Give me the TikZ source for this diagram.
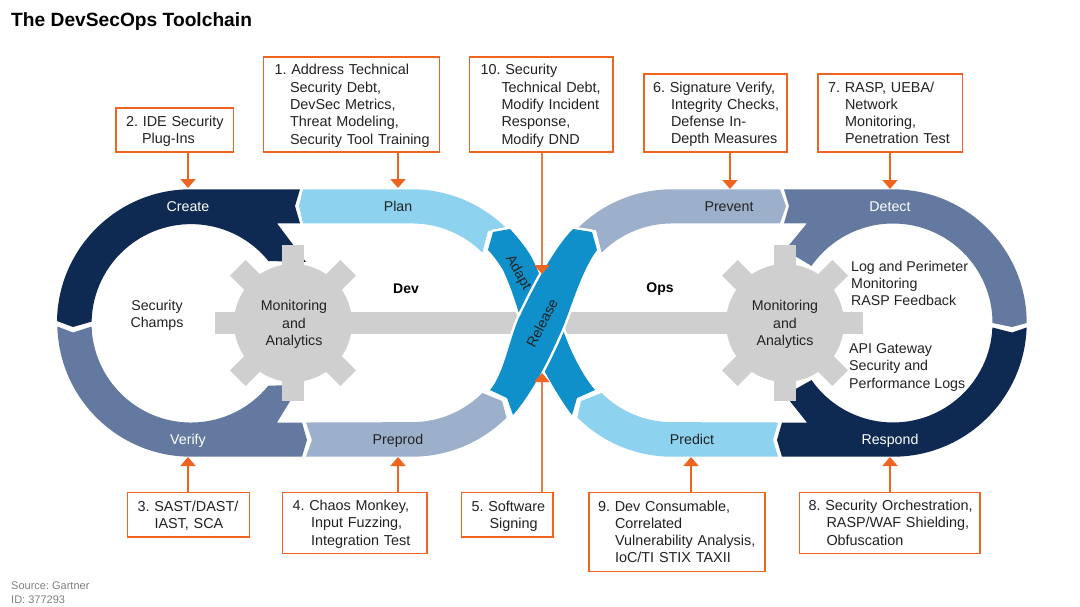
\documentclass[tikz,border=0pt]{standalone}
\usepackage{fontspec}
\setmainfont{Liberation Sans}
\usetikzlibrary{arrows.meta}
\frenchspacing
\definecolor{navy}{HTML}{0F2A52}
\definecolor{slateb}{HTML}{64799F}
\definecolor{paleb}{HTML}{9CAFCB}
\definecolor{skyb}{HTML}{8DD3F0}
\definecolor{ribb}{HTML}{0F90CB}
\definecolor{gearg}{HTML}{CFCFCF}
\definecolor{orng}{HTML}{EE6420}
\definecolor{orngl}{HTML}{E27E48}
\definecolor{txt}{HTML}{222222}
\tikzset{
  boxn/.style={draw=orng,line width=1.8pt,fill=white,inner xsep=8pt,inner ysep=0pt,text=txt,font=\fontsize{14.4}{17.3}\selectfont},
  lab/.style={font=\fontsize{14.2}{17.3}\selectfont,text=txt,inner sep=0pt},
  blab/.style={lab,text height=10pt,text depth=3pt},
  wlab/.style={blab,text=white},
  midt/.style={lab,align=center},
  leftt/.style={lab,align=left,anchor=west},
  conn/.style={draw=orng,line width=1.8pt,-{Triangle[length=9pt,width=15pt,color=orng]}},
  connl/.style={draw=orngl,line width=1.8pt,-{Triangle[length=9pt,width=15pt,color=orng]}},
  ribbon/.style={fill=ribb,preaction={draw=white,line width=5pt,line join=round}},
}
\newcommand\bx[6]{%
  \pgfmathsetmacro\cx{(#2+#4)/2}\pgfmathsetmacro\cy{(#3+#5)/2}%
  \pgfmathsetmacro\bw{#4-#2}\pgfmathsetmacro\bh{#5-#3}\pgfmathsetmacro\tw{#4-#2-16}%
  \node[boxn,minimum width=\bw pt,minimum height=\bh pt,text width=\tw pt] (#1) at (\cx,\cy) {\noindent\raisebox{-1.5pt}[\height][\depth]{\begin{tabular}{@{}l@{}}#6\end{tabular}}};}
\newcommand\hg[1]{\hspace*{#1pt}}
\newcommand\gearat[3]{%
  \fill[gearg] (#1,#2) circle[radius=59pt];
  \foreach \a in {0,45,...,315}{
    \fill[gearg,shift={(#1,#2)},rotate=\a] (0,-11) rectangle (#3,11);
  }}
\begin{document}
\begin{tikzpicture}[x=1pt,y=-1pt]
\useasboundingbox (0,0) rectangle (1080,606);
\fill[white] (0,0) rectangle (1080,606);
% left ring
\fill[navy] (57,321) arc[start angle=179.15,end angle=90,radius=133.7pt] -- (300,189.3) -- (295,206) -- (300,223.3) -- (277,223.3) -- (306,262) -- (268.4,261) arc[start angle=39,end angle=178.85,radius=99.5pt] -- (73,327) -- cycle;
\fill[slateb] (57.4,326.5) -- (73,332.5) -- (91.6,326.5) arc[start angle=182,end angle=321,radius=99.5pt] -- (300,385) -- (277,422.5) -- (302,422.5) -- (307,440) -- (302,456.7) -- (191,456.7) arc[start angle=270,end angle=181.5,radius=133.7pt] -- cycle;
% right ring
\fill[slateb] (784,189.3) -- (893,189.3) arc[start angle=90,end angle=0,radius=133.7pt] -- (1012,327) -- (992.5,323) arc[start angle=0,end angle=145,radius=99.5pt] -- (785,250) -- (807,223.3) -- (784,223.3) -- (789,206) -- cycle;
\fill[navy] (1026.6,327.5) -- (1012,332.5) -- (992.4,327.5) arc[start angle=-2.6,end angle=-145,radius=99.5pt] -- (785,395) -- (807,422.5) -- (782,422.5) -- (777,440) -- (782,456.7) -- (893,456.7) arc[start angle=270,end angle=358.1,radius=133.7pt] -- cycle;
% connecting bands
\fill[skyb] (303,189.3) -- (412,189.3) arc[start angle=90,end angle=45,radius=133.7pt] -- (488,231) -- (482.4,252.6) arc[start angle=45,end angle=90,radius=99.5pt] -- (303,223.3) -- (299,206) -- cycle;
\fill[paleb] (306,456.7) -- (412,456.7) arc[start angle=270,end angle=315,radius=133.7pt] -- (502,401) -- (482.4,393) arc[start angle=-45,end angle=-90,radius=99.5pt] -- (306,422.5) -- (312,440) -- cycle;
\fill[paleb] (780,189.3) -- (672,189.3) arc[start angle=90,end angle=135,radius=133.7pt] -- (596,230) -- (601.6,252.6) arc[start angle=135,end angle=90,radius=99.5pt] -- (780,223.3) -- (786,206) -- cycle;
\fill[skyb] (778,456.7) -- (672,456.7) arc[start angle=270,end angle=225,radius=133.7pt] -- (581,401) -- (601.6,393) arc[start angle=225,end angle=270,radius=99.5pt] -- (778,422.5) -- (773,440) -- cycle;
% bars
\fill[gearg] (293,312) rectangle (530,334);
\fill[gearg] (550,312) rectangle (785,334);
% adapt and release ribbons
\path[ribbon] (488,250) -- (493,232) -- (510,229) .. controls (520,240) and (528,250) .. (533,260) .. controls (545,285) and (553,310) .. (563,330) .. controls (570,350) and (582,375) .. (595,390) -- (577,398) -- (572,415) .. controls (562,402) and (552,385) .. (545,372) .. controls (535,352) and (528,335) .. (520,317) .. controls (515,300) and (510,285) .. (503,270) .. controls (498,262) and (493,255) .. (488,250) -- cycle;
\path[ribbon] (573,229) -- (592,232) -- (597,250) .. controls (582,270) and (572,305) .. (563,327) .. controls (553,350) and (535,390) .. (513,415) -- (507,398) -- (490,390) .. controls (503,375) and (508,345) .. (518,320) .. controls (530,295) and (552,250) .. (573,229) -- cycle;
% gears
\gearat{293}{323}{78}
\gearat{785}{323}{78}
% connector ends
\coordinate (t2) at (188,188);
\coordinate (t1) at (398,188);
\coordinate (t10) at (542,274);
\coordinate (t6) at (730,189);
\coordinate (t7) at (890,189);
\coordinate (t3) at (188,457);
\coordinate (t4) at (398,457);
\coordinate (t5) at (542,373);
\coordinate (t9) at (691,457);
\coordinate (t8) at (890,457);
% boxes
\bx{b2}{116}{108}{233.5}{152}{\hg{2}2. IDE Security\\\hg{18}Plug-Ins}
\bx{b1}{263.5}{57}{439.5}{152}{\hg{3}1. Address Technical\\\hg{18.5}Security Debt,\\\hg{18.5}DevSec Metrics,\\\hg{18.5}Threat Modeling,\\\hg{18.5}Security Tool Training}
\bx{b10}{469.5}{57}{613}{152}{\hg{3}10. Security\\\hg{24}Technical Debt,\\\hg{24}Modify Incident\\\hg{24}Response,\\\hg{24}Modify DND}
\bx{b6}{644}{74}{787}{152}{\hg{1}6. Signature Verify,\\\hg{19}Integrity Checks,\\\hg{19}Defense In-\\\hg{19}Depth Measures}
\bx{b7}{818}{74}{962.5}{152}{\hg{2}7. RASP, UEBA/\\\hg{19}Network\\\hg{19}Monitoring,\\\hg{19}Penetration Test}
\bx{b3}{127.5}{492.5}{249.5}{537}{\hg{2}3. SAST/DAST/\\\hg{19}IAST, SCA}
\bx{b4}{282.5}{492.5}{427}{553.5}{\hg{2}4. Chaos Monkey,\\\hg{20.5}Input Fuzzing,\\\hg{20.5}Integration Test}
\bx{b5}{461.5}{492.5}{553}{537}{\hg{2}5. Software\\\hg{20}Signing}
\bx{b9}{589}{492.5}{765}{571.5}{\hg{1}9. Dev Consumable,\\\hg{18}Correlated\\\hg{18}Vulnerability Analysis,\\\hg{18}IoC/TI STIX TAXII}
\bx{b8}{799.5}{492.5}{980}{553.5}{\hg{1}8. Security Orchestration,\\\hg{19}RASP/WAF Shielding,\\\hg{19}Obfuscation}
% connectors
\draw[conn] (b2.south -| t2) -- (t2);
\draw[conn] (b1.south -| t1) -- (t1);
\draw[connl] (b10.south -| t10) -- (t10);
\draw[conn] (b6.south -| t6) -- (t6);
\draw[conn] (b7.south -| t7) -- (t7);
\draw[conn] (b3.north -| t3) -- (t3);
\draw[conn] (b4.north -| t4) -- (t4);
\draw[connl] (b5.north -| t5) -- (t5);
\draw[conn] (b9.north -| t9) -- (t9);
\draw[conn] (b8.north -| t8) -- (t8);
% labels
\node[wlab] (create) at (188,208) {Create};
\node[blab] (plan) at (398,208) {Plan};
\node[blab] (prevent) at (729,208) {Prevent};
\node[wlab] (detect) at (890,208) {Detect};
\node[wlab] (verify) at (188,441) {Verify};
\node[blab] (preprod) at (398,441) {Preprod};
\node[blab] (predict) at (692,441) {Predict};
\node[wlab] (respond) at (890,441) {Respond};
\node[lab,font=\fontsize{14}{17}\bfseries\selectfont,text=black] (dev) at (406,289) {Dev};
\node[lab,font=\fontsize{14}{17}\bfseries\selectfont,text=black] (ops) at (660,289) {Ops};
\node[midt] (mon1) at (294,324.5) {Monitoring\\and\\Analytics};
\node[midt] (mon2) at (785,324.5) {Monitoring\\and\\Analytics};
\node[midt] (champs) at (157,315) {Security\\Champs};
\node[leftt] (logs) at (851,283.5) {Log and Perimeter\\Monitoring\\RASP Feedback};
\node[leftt] (api) at (849,367.5) {API Gateway\\Security and\\Performance Logs};
\node[lab,rotate=-60] (adapt) at (518,273) {Adapt};
\node[lab,rotate=63] (release) at (542,323) {Release};
\node[anchor=west,inner sep=0pt,font=\fontsize{19.2}{22}\bfseries\selectfont,text=black] (title) at (11,21.5) {The DevSecOps Toolchain};
\node[anchor=north west,inner sep=0pt,align=left,font=\fontsize{11}{14}\selectfont,text=gray] (src) at (11,582) {Source: Gartner\\ID: 377293};
\end{tikzpicture}
\end{document}
